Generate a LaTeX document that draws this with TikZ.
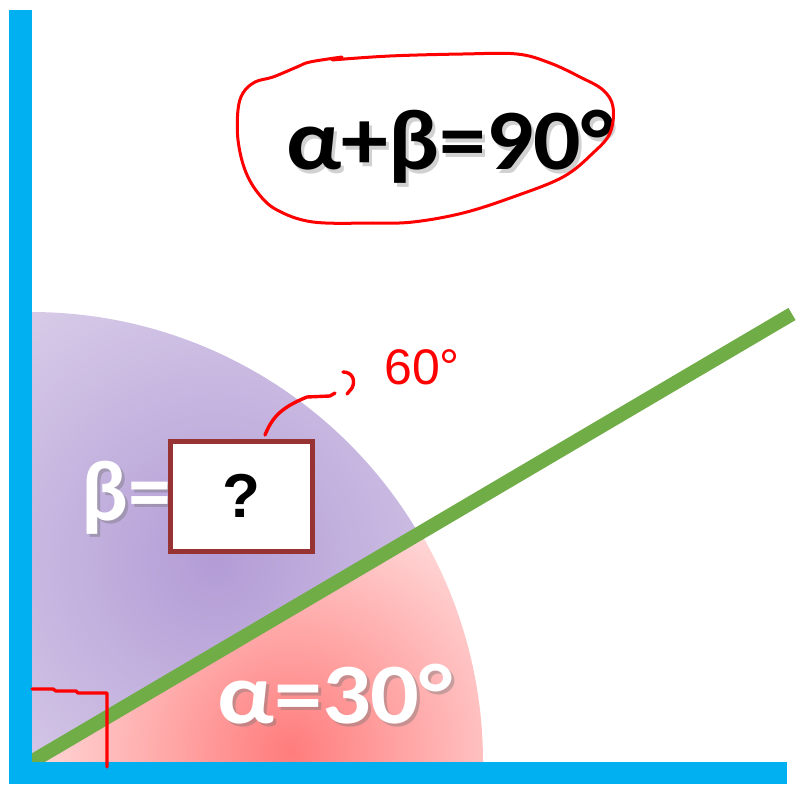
\documentclass[tikz,border=0pt]{standalone}
\usepackage{fontspec}
\newfontfamily\calfont{Carlito}
\newfontfamily\arfont{Liberation Sans}
\definecolor{axisblue}{HTML}{00B0F0}
\definecolor{raygreen}{HTML}{70AD47}
\definecolor{boxred}{HTML}{983334}
\definecolor{pinkin}{HTML}{FF7C7C}
\definecolor{pinkout}{HTML}{FFD8D8}
\definecolor{purpin}{HTML}{B39CD6}
\definecolor{purpout}{HTML}{DFD6EC}
\definecolor{inkred}{HTML}{FF0000}
\begin{document}
\begin{tikzpicture}[x=1pt,y=-1pt,
  handstroke/.style={draw=inkred,line width=3.4pt,line cap=round,line join=round},
  bigtxt/.style={font=\calfont\bfseries\fontsize{86}{86}\selectfont,inner sep=0pt,anchor=base},
  shadowtxt/.style={bigtxt,text=black!55,opacity=0.4}]
\useasboundingbox (0,0) rectangle (797,786);
\fill[white] (0,0) rectangle (797,786);
\coordinate (O) at (31,762);
% beta sector (30..90)
\begin{scope}
  \clip (O) -- ++(30:450pt) arc[start angle=30,end angle=90,radius=450pt] -- cycle;
  \shade[inner color=purpin,outer color=purpout] (215,560) circle (380pt);
\end{scope}
% alpha sector (0..30)
\begin{scope}
  \clip (O) -- ++(0:452pt) arc[start angle=0,end angle=30,radius=452pt] -- cycle;
  \shade[inner color=pinkin,outer color=pinkout] (290,752) circle (260pt);
\end{scope}
% green ray
\coordinate (R) at (792,314);
\draw[raygreen,line width=14pt] (O) -- (R);
% axes
\fill[axisblue] (9,10) rectangle (32,784);
\fill[axisblue] (9,762) rectangle (787,784);
% right angle mark
\draw[handstroke] (32,689) -- (53,689) -- (56,691) -- (76,691) -- (78,693) -- (107,693) -- (107,767);
% labels in the sectors
\node[shadowtxt,anchor=base west] at (84,523) {β=};
\node[bigtxt,text=white,anchor=base west] (beta) at (81,520) {β=};
\node[shadowtxt,xscale=1.12] at (338,726) {α=30°};
\node[bigtxt,text=white,xscale=1.12] (alpha) at (335,723) {α=30°};
% box with question mark
\node[draw=boxred,line width=5pt,fill=white,minimum width=142pt,minimum height=110pt,inner sep=0pt,
  font=\arfont\bfseries\fontsize{62}{62}\selectfont] (q) at (241.5,496) {?};
% header equation
\node[shadowtxt,xscale=1.09,text=black!45] at (453,174) {α+β=90°};
\node[bigtxt,text=black,xscale=1.09] (sum) at (450,170) {α+β=90°};
% hand-drawn loop around the equation
\draw[handstroke,line width=3pt] plot[smooth,tension=0.6] coordinates {
  (342,57) (310,62) (297,67) (273,77) (255,82) (243,93) (238,110) (238,140) (245,170)
  (258,193) (277,210) (313,222) (373,223) (413,222) (463,213) (513,197) (563,177)
  (593,153) (610,133) (613,107) (603,90) (580,77) (550,63) (517,54) (463,54) (390,56) (332,60)};
% hand-drawn pointer and answer
\coordinate (qtop) at (265,435);
\draw[handstroke] (qtop) .. controls (272,418) and (280,408) .. (307,397) -- (330,396) -- (335,393);
\draw[handstroke] (343,372) .. controls (352,372) and (356,380) .. (352,388) -- (347,394);
\node[text=inkred,font=\arfont\fontsize{50}{50}\selectfont,inner sep=0pt,anchor=base west] (ans) at (384,384) {60°};
\end{tikzpicture}
\end{document}
